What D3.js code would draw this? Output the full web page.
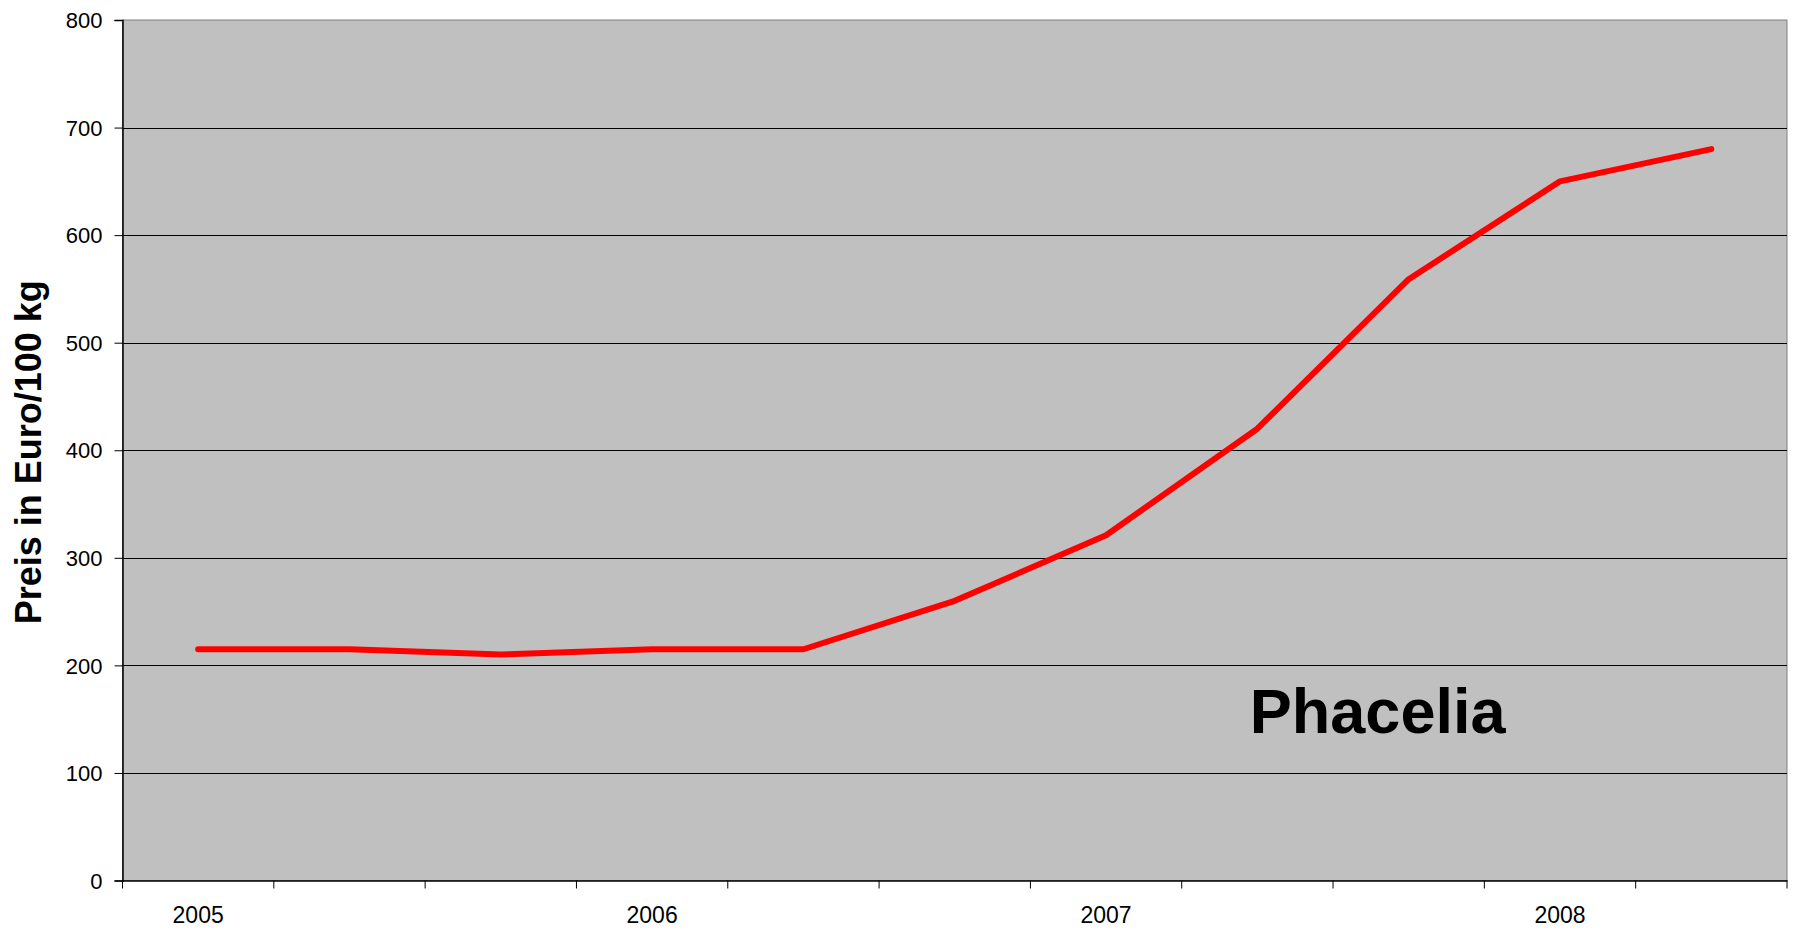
<!DOCTYPE html>
<html><head><meta charset="utf-8">
<script src="https://cdn.jsdelivr.net/npm/d3@7"></script>
<style>body{margin:0;background:#fff}svg{display:block}</style>
</head><body>
<script>
const categories = ["2005-01","2005-05","2005-09","2006-01","2006-05","2006-09","2007-01","2007-05","2007-09","2008-01","2008-05"];
const tickLabels = ["2005","","","2006","","","2007","","","2008",""];
const prices = [215, 215, 210, 215, 215, 260, 321, 420, 559, 650, 680];
const yTicks = [0,100,200,300,400,500,600,700,800];
const yLabel = "Preis in Euro/100 kg";
const seriesName = "Phacelia";

const W = 1793, H = 929;
const m = {left:122.5, right:6, top:20, bottom:48.5};
const svg = d3.select("body").append("svg").attr("width",W).attr("height",H)
  .style("font-family","'Liberation Sans', Arial, sans-serif");
const iw = W - m.left - m.right, ih = H - m.top - m.bottom;
const g = svg.append("g").attr("transform",`translate(${m.left},${m.top})`);

const x = d3.scaleBand().domain(categories).range([0, iw]).padding(0);
const y = d3.scaleLinear().domain([0,800]).range([ih,0]);

g.append("rect").attr("width",iw).attr("height",ih).attr("fill","#c0c0c0")
  .attr("stroke","#808080").attr("stroke-width",1);

g.selectAll("line.grid").data(yTicks.filter(v=>v>0 && v<800)).join("line")
  .attr("class","grid").attr("x1",0).attr("x2",iw)
  .attr("y1",d=>Math.round(y(d))+0.5).attr("y2",d=>Math.round(y(d))+0.5)
  .attr("stroke","#000").attr("stroke-width",1);

// Y axis
const ya = g.append("g").call(d3.axisLeft(y).tickValues(yTicks).tickSize(8).tickPadding(12));
ya.select(".domain").attr("stroke","#000").attr("stroke-width",1.5);
ya.selectAll(".tick line").attr("stroke","#000");
ya.selectAll("text").attr("font-size",22).attr("fill","#000").attr("dy","0.35em");

// X axis
const xa = g.append("g").attr("transform",`translate(0,${ih})`)
  .call(d3.axisBottom(x).tickValues([]).tickSize(0));
xa.select(".domain").attr("stroke","#000").attr("stroke-width",1.5);
const edges = d3.range(categories.length+1).map(i => i===categories.length ? iw : x(categories[i]));
xa.selectAll("line.tk").data(edges).join("line").attr("class","tk")
  .attr("x1",d=>d).attr("x2",d=>d).attr("y1",0).attr("y2",8).attr("stroke","#000");
xa.selectAll("text.lbl").data(categories).join("text").attr("class","lbl")
  .attr("x",d=>x(d)+x.bandwidth()/2).attr("y",42)
  .attr("text-anchor","middle").attr("font-size",23).attr("fill","#000")
  .text((d,i)=>tickLabels[i]);

// Line
const line = d3.line().x((d,i)=>x(categories[i])+x.bandwidth()/2).y(d=>y(d));
g.append("path").datum(prices).attr("d",line).attr("fill","none")
  .attr("stroke","#ff0000").attr("stroke-width",6)
  .attr("stroke-linejoin","round").attr("stroke-linecap","round");

// Series label
g.append("text").attr("x",x(categories[7])+x.bandwidth()*0.45).attr("y",y(137))
  .attr("font-size",63).attr("font-weight","bold").attr("fill","#000").text(seriesName);

// Y label
svg.append("text").attr("transform",`translate(41,${m.top+ih/2+2}) rotate(-90)`)
  .attr("text-anchor","middle").attr("font-size",36).attr("font-weight","bold")
  .attr("fill","#000").text(yLabel);
</script>
</body></html>
